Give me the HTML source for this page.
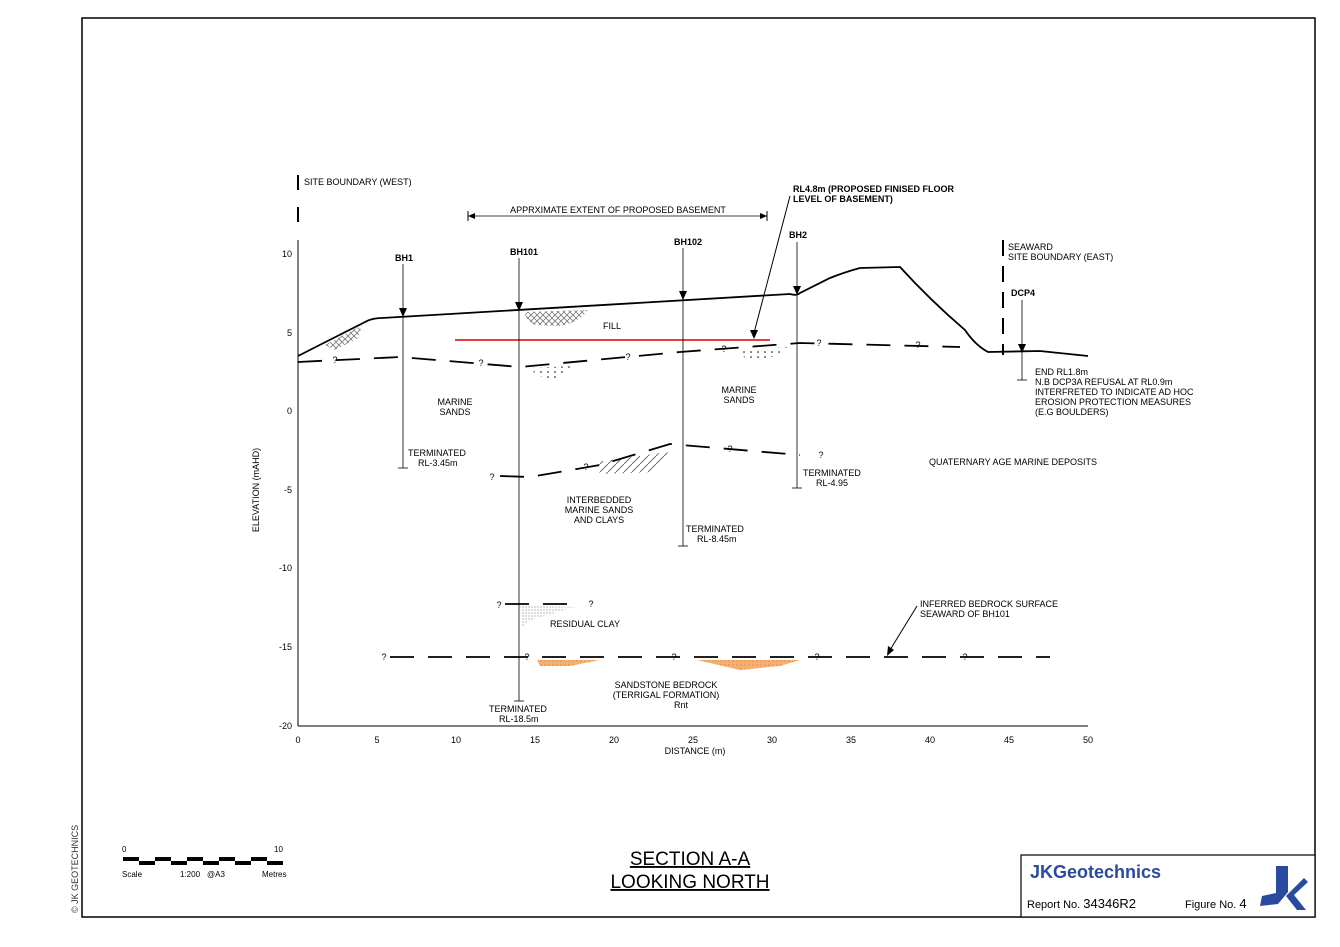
<!DOCTYPE html>
<html><head><meta charset="utf-8"><style>
body{margin:0;background:#fff}
svg{display:block;font-family:"Liberation Sans",Arial,sans-serif}
</style></head><body>
<svg width="1340" height="947" viewBox="0 0 1340 947" xmlns="http://www.w3.org/2000/svg">
<defs>
<pattern id="xh" width="6" height="6" patternUnits="userSpaceOnUse"><path d="M0 0L6 6M6 0L0 6" stroke="#777" stroke-width="0.8"/></pattern>
<pattern id="dots" width="7" height="5" patternUnits="userSpaceOnUse"><circle cx="2" cy="2" r="0.8" fill="#000"/></pattern>
<pattern id="hat" width="8" height="8" patternUnits="userSpaceOnUse"><path d="M0 8L8 0" stroke="#555" stroke-width="0.8"/></pattern>
<pattern id="or" width="4" height="4" patternUnits="userSpaceOnUse"><rect width="4" height="4" fill="#f7b071"/><circle cx="1" cy="1" r="0.6" fill="#d9782e"/></pattern>
<pattern id="gd" width="3" height="3" patternUnits="userSpaceOnUse"><circle cx="1" cy="1" r="0.6" fill="#888"/></pattern>
</defs>
<rect x="82" y="18" width="1233" height="899" fill="none" stroke="#000" stroke-width="1.5"/>
<g stroke="#000" stroke-width="1" fill="none">
<line x1="298" y1="240" x2="298" y2="726"/>
<line x1="298" y1="726" x2="1088" y2="726"/>
</g>
<g font-size="9" text-anchor="end">
<text x="292" y="257">10</text><text x="292" y="336">5</text><text x="292" y="414">0</text>
<text x="292" y="493">-5</text><text x="292" y="571">-10</text><text x="292" y="650">-15</text><text x="292" y="729">-20</text>
</g>
<g font-size="9" text-anchor="middle">
<text x="298" y="743">0</text><text x="377" y="743">5</text><text x="456" y="743">10</text><text x="535" y="743">15</text>
<text x="614" y="743">20</text><text x="693" y="743">25</text><text x="772" y="743">30</text><text x="851" y="743">35</text>
<text x="930" y="743">40</text><text x="1009" y="743">45</text><text x="1088" y="743">50</text>
<text x="695" y="754">DISTANCE (m)</text>
</g>
<text font-size="9" transform="translate(259,490) rotate(-90)" text-anchor="middle">ELEVATION (mAHD)</text>
<line x1="298" y1="175" x2="298" y2="190" stroke="#000" stroke-width="2"/>
<line x1="298" y1="207" x2="298" y2="222" stroke="#000" stroke-width="2"/>
<text x="304" y="185" font-size="9">SITE BOUNDARY (WEST)</text>
<line x1="1003" y1="240" x2="1003" y2="355" stroke="#000" stroke-width="2" stroke-dasharray="16,10"/>
<text x="1008" y="250" font-size="9">SEAWARD</text><text x="1008" y="260" font-size="9">SITE BOUNDARY (EAST)</text>
<line x1="468" y1="216" x2="767" y2="216" stroke="#000" stroke-width="0.8"/>
<line x1="468" y1="211" x2="468" y2="221" stroke="#000"/><line x1="767" y1="211" x2="767" y2="221" stroke="#000"/>
<path d="M468 216l7-3v6zM767 216l-7-3v6z"/>
<text x="618" y="213" font-size="9" text-anchor="middle">APPRXIMATE EXTENT OF PROPOSED BASEMENT</text>
<text x="793" y="192" font-size="9" font-weight="bold">RL4.8m (PROPOSED FINISED FLOOR</text>
<text x="793" y="202" font-size="9" font-weight="bold">LEVEL OF BASEMENT)</text>
<line x1="790" y1="196" x2="754" y2="333" stroke="#000"/>
<path d="M754 339l-4-9h8z"/>
<path d="M325 345L362 325L358 338L335 350Z" fill="url(#xh)"/>
<path d="M525 312L588 310Q580 322 560 326L535 325Q525 320 525 312Z" fill="url(#xh)"/>
<path d="M527 368L575 366L550 382Z" fill="url(#dots)"/>
<path d="M737 349L790 347L770 358L745 358Z" fill="url(#dots)"/>
<path d="M596 462L668 452L655 472L600 474Z" fill="url(#hat)"/>
<path d="M520 606L575 607L530 620L522 628Z" fill="url(#gd)"/>
<path d="M537 660L600 660L570 666L540 666Z" fill="url(#or)"/>
<path d="M697 660L800 660L780 666L740 670Z" fill="url(#or)"/>
<path d="M298 356L365 322Q372 318 382 318L790 294Q797 296 800 293L830 278Q845 272 860 268L900 267Q930 300 965 330Q975 345 988 352L1040 351L1088 356" fill="none" stroke="#000" stroke-width="1.8"/>
<line x1="455" y1="340" x2="770" y2="340" stroke="#e00000" stroke-width="1.5"/>
<g stroke="#000" stroke-width="1.8" fill="none" stroke-dasharray="24,14">
<path d="M298 362L400 357L520 367L680 352L800 343L960 347"/>
<path d="M500 476L530 477L600 465L670 444L800 455"/>
<path d="M505 604L580 604"/>
<path d="M390 657L1050 657"/>
</g>
<g font-size="9" text-anchor="middle">
<text x="335" y="363">?</text><text x="481" y="366">?</text><text x="628" y="360">?</text><text x="724" y="352">?</text>
<text x="819" y="346">?</text><text x="918" y="348">?</text>
<text x="492" y="480">?</text><text x="586" y="470">?</text><text x="730" y="452">?</text><text x="821" y="458">?</text>
<text x="499" y="608">?</text><text x="591" y="607">?</text>
<text x="384" y="660">?</text><text x="527" y="660">?</text><text x="674" y="660">?</text><text x="817" y="660">?</text><text x="965" y="660">?</text>
</g>
<g stroke="#000" stroke-width="0.8">
<line x1="403" y1="264" x2="403" y2="468"/><line x1="398" y1="468" x2="408" y2="468"/>
<line x1="519" y1="258" x2="519" y2="701"/><line x1="514" y1="701" x2="524" y2="701"/>
<line x1="683" y1="248" x2="683" y2="546"/><line x1="678" y1="546" x2="688" y2="546"/>
<line x1="797" y1="242" x2="797" y2="488"/><line x1="792" y1="488" x2="802" y2="488"/>
<line x1="1022" y1="300" x2="1022" y2="380"/><line x1="1017" y1="380" x2="1027" y2="380"/>
</g>
<path d="M403 317l-4-9h8zM519 311l-4-9h8zM683 300l-4-9h8zM797 295l-4-9h8zM1022 353l-4-9h8z"/>
<g font-size="9" font-weight="bold" text-anchor="middle">
<text x="404" y="261">BH1</text><text x="524" y="255">BH101</text><text x="688" y="245">BH102</text><text x="798" y="238">BH2</text><text x="1023" y="296">DCP4</text>
</g>
<g font-size="9">
<text x="603" y="329">FILL</text>
<text x="455" y="405" text-anchor="middle">MARINE</text><text x="455" y="415" text-anchor="middle">SANDS</text>
<text x="739" y="393" text-anchor="middle">MARINE</text><text x="739" y="403" text-anchor="middle">SANDS</text>
<text x="408" y="456">TERMINATED</text><text x="418" y="466">RL-3.45m</text>
<text x="803" y="476">TERMINATED</text><text x="816" y="486">RL-4.95</text>
<text x="686" y="532">TERMINATED</text><text x="697" y="542">RL-8.45m</text>
<text x="489" y="712">TERMINATED</text><text x="499" y="722">RL-18.5m</text>
<text x="599" y="503" text-anchor="middle">INTERBEDDED</text><text x="599" y="513" text-anchor="middle">MARINE SANDS</text><text x="599" y="523" text-anchor="middle">AND CLAYS</text>
<text x="929" y="465">QUATERNARY AGE MARINE DEPOSITS</text>
<text x="550" y="627">RESIDUAL CLAY</text>
<text x="666" y="688" text-anchor="middle">SANDSTONE BEDROCK</text><text x="666" y="698" text-anchor="middle">(TERRIGAL FORMATION)</text><text x="681" y="708" text-anchor="middle">Rnt</text>
<text x="1035" y="375">END RL1.8m</text><text x="1035" y="385">N.B DCP3A REFUSAL AT RL0.9m</text>
<text x="1035" y="395">INTERFRETED TO INDICATE AD HOC</text><text x="1035" y="405">EROSION PROTECTION MEASURES</text><text x="1035" y="415">(E.G BOULDERS)</text>
<text x="920" y="607">INFERRED BEDROCK SURFACE</text><text x="920" y="617">SEAWARD OF BH101</text>
</g>
<line x1="917" y1="606" x2="890" y2="650" stroke="#000"/>
<path d="M887 656l1-10 6 4z"/>
<g font-size="19" text-anchor="middle" text-decoration="underline">
<text x="690" y="865">SECTION A-A</text><text x="690" y="888">LOOKING NORTH</text>
</g>
<g font-size="8">
<text x="122" y="852">0</text><text x="274" y="852">10</text>
<text x="122" y="877">Scale</text><text x="180" y="877">1:200</text><text x="207" y="877">@A3</text><text x="262" y="877">Metres</text>
</g>
<g fill="#000">
<rect x="123" y="857" width="16" height="4"/><rect x="139" y="861" width="16" height="4"/><rect x="155" y="857" width="16" height="4"/>
<rect x="171" y="861" width="16" height="4"/><rect x="187" y="857" width="16" height="4"/><rect x="203" y="861" width="16" height="4"/>
<rect x="219" y="857" width="16" height="4"/><rect x="235" y="861" width="16" height="4"/><rect x="251" y="857" width="16" height="4"/>
<rect x="267" y="861" width="16" height="4"/>
</g>
<text font-size="9" transform="translate(78,913) rotate(-90)" fill="#333">© JK GEOTECHNICS</text>
<rect x="1021" y="855" width="294" height="62" fill="#fff" stroke="#000" stroke-width="1.2"/>
<text x="1030" y="878" font-size="18" font-weight="bold" fill="#2a4aa0">JKGeotechnics</text>
<text x="1027" y="908" font-size="11">Report No. <tspan font-size="13">34346R2</tspan></text>
<text x="1185" y="908" font-size="11">Figure No. <tspan font-size="13">4</tspan></text>
<path d="M1276 866L1288 866L1288 892L1278 904L1260 906L1262 896L1276 893Z" fill="#2a4aa0"/>
<path d="M1286 896L1304 878L1308 882L1294 895L1306 910L1297 910Z" fill="#2a4aa0"/>
</svg>
</body></html>
